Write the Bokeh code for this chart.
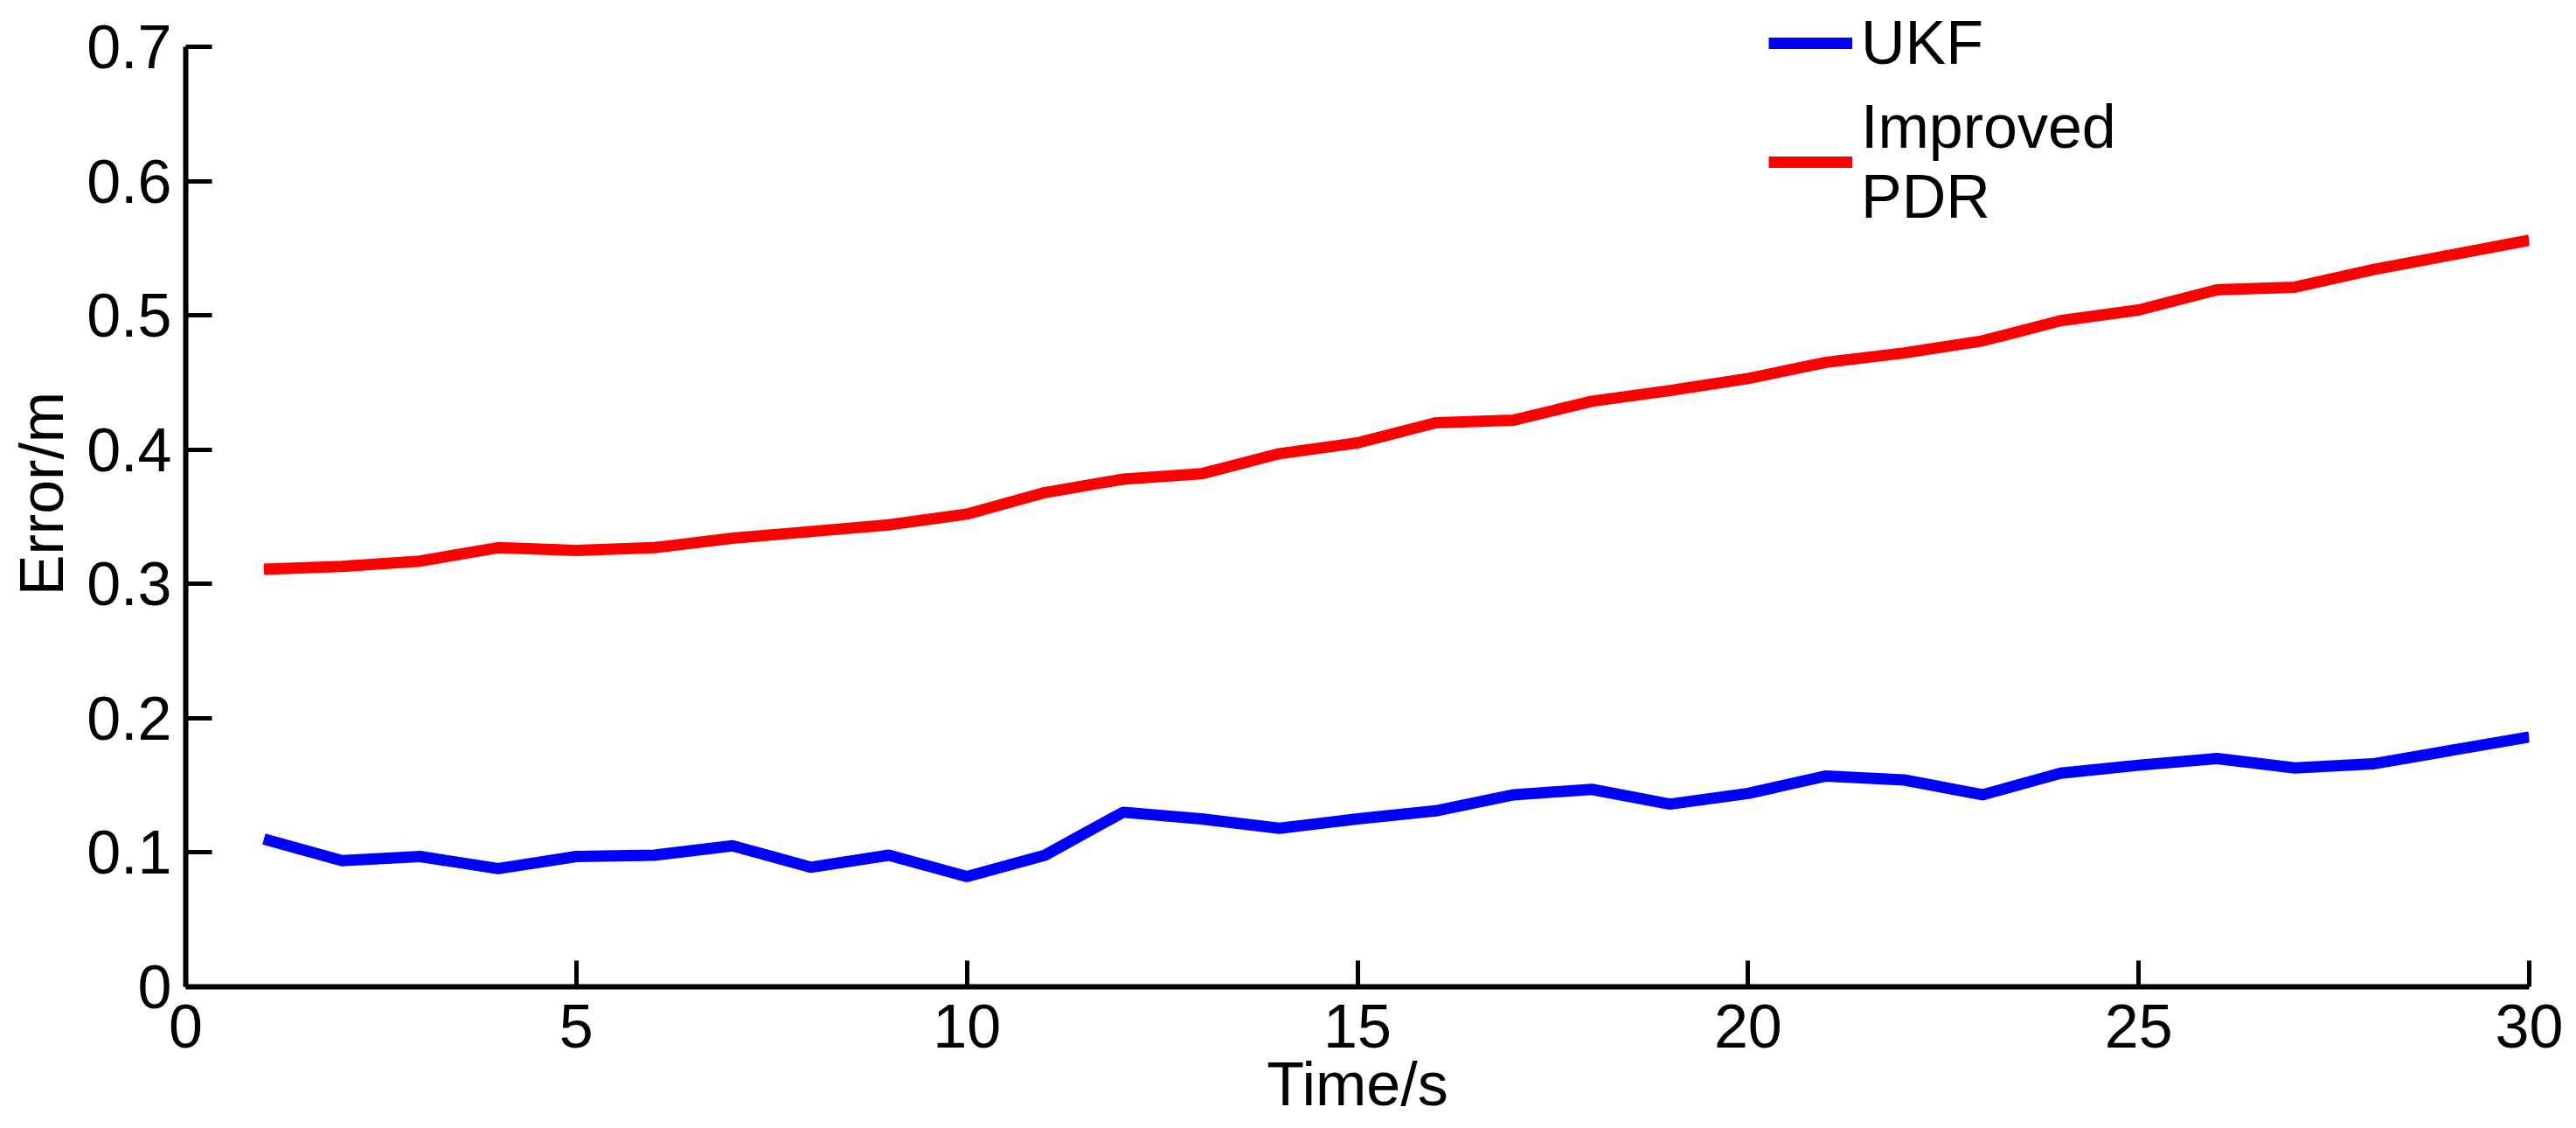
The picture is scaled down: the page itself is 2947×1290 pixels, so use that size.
from bokeh.plotting import figure
from bokeh.models import Range1d, FixedTicker, CustomJSTickFormatter, Legend, LegendItem
from bokeh.embed import file_html
from bokeh.resources import INLINE

time_s = list(range(1, 31))
ukf_error = [0.110, 0.094, 0.097, 0.088, 0.097, 0.098, 0.105, 0.089, 0.098, 0.082,
             0.098, 0.130, 0.125, 0.118, 0.125, 0.131, 0.143, 0.147, 0.136, 0.144,
             0.157, 0.154, 0.143, 0.159, 0.165, 0.170, 0.163, 0.166, 0.176, 0.186]
pdr_error = [0.311, 0.313, 0.317, 0.327, 0.325, 0.327, 0.334, 0.339, 0.344, 0.352,
             0.368, 0.378, 0.382, 0.397, 0.405, 0.420, 0.422, 0.436, 0.444, 0.453,
             0.465, 0.472, 0.481, 0.496, 0.504, 0.519, 0.521, 0.534, 0.545, 0.556]
x_ticks = [0, 5, 10, 15, 20, 25, 30]
y_ticks = [0, 0.1, 0.2, 0.3, 0.4, 0.5, 0.6, 0.7]
series_names = ["UKF", "Improved\nPDR"]
x_label = "Time/s"
y_label = "Error/m"

FONT = "Liberation Sans"
Y_TOP = 0.7 + 53 * 0.7 / 1075   # headroom above the axis for the legend

p = figure(width=2939, height=1290, output_backend="svg", toolbar_location=None,
           x_range=Range1d(0, 30), y_range=Range1d(0, Y_TOP),
           min_border_left=212, min_border_right=46, min_border_top=0, min_border_bottom=162)
p.outline_line_color = None
p.xgrid.grid_line_color = None
p.ygrid.grid_line_color = None

r1 = p.line(time_s, ukf_error, line_color="#0000ff", line_width=13)
r2 = p.line(time_s, pdr_error, line_color="#ff0000", line_width=13)

for ax in (p.xaxis[0], p.yaxis[0]):
    ax.axis_line_width = 6
    ax.axis_line_color = "black"
    ax.major_tick_line_width = 5
    ax.major_tick_line_color = "black"
    ax.major_tick_in = 30
    ax.major_tick_out = 0
    ax.minor_tick_line_color = None
    ax.major_label_text_font = FONT
    ax.major_label_text_font_size = "70px"
    ax.major_label_text_color = "black"
    ax.axis_label_text_font = FONT
    ax.axis_label_text_font_size = "70px"
    ax.axis_label_text_font_style = "normal"
    ax.axis_label_text_color = "black"

p.yaxis[0].bounds = (0, 0.7)
p.xaxis[0].ticker = FixedTicker(ticks=x_ticks)
p.yaxis[0].ticker = FixedTicker(ticks=y_ticks)
p.yaxis[0].formatter = CustomJSTickFormatter(code="return String(Math.round(tick*10)/10);")
p.xaxis[0].major_label_standoff = 20
p.yaxis[0].major_label_standoff = 16
p.xaxis[0].axis_label = x_label
p.yaxis[0].axis_label = y_label
p.xaxis[0].axis_label_standoff = 0
p.yaxis[0].axis_label_standoff = 9

legend = Legend(items=[LegendItem(label=series_names[0], renderers=[r1]),
                       LegendItem(label=series_names[1], renderers=[r2])],
                location=(1811, 863), border_line_color=None, background_fill_alpha=0,
                padding=0, margin=0, spacing=16, glyph_width=96, label_standoff=10,
                label_text_font=FONT, label_text_font_size="70px", label_text_color="black",
                label_text_line_height=1.25)
p.add_layout(legend, "center")

open("out.html", "w").write(file_html(p, INLINE))
